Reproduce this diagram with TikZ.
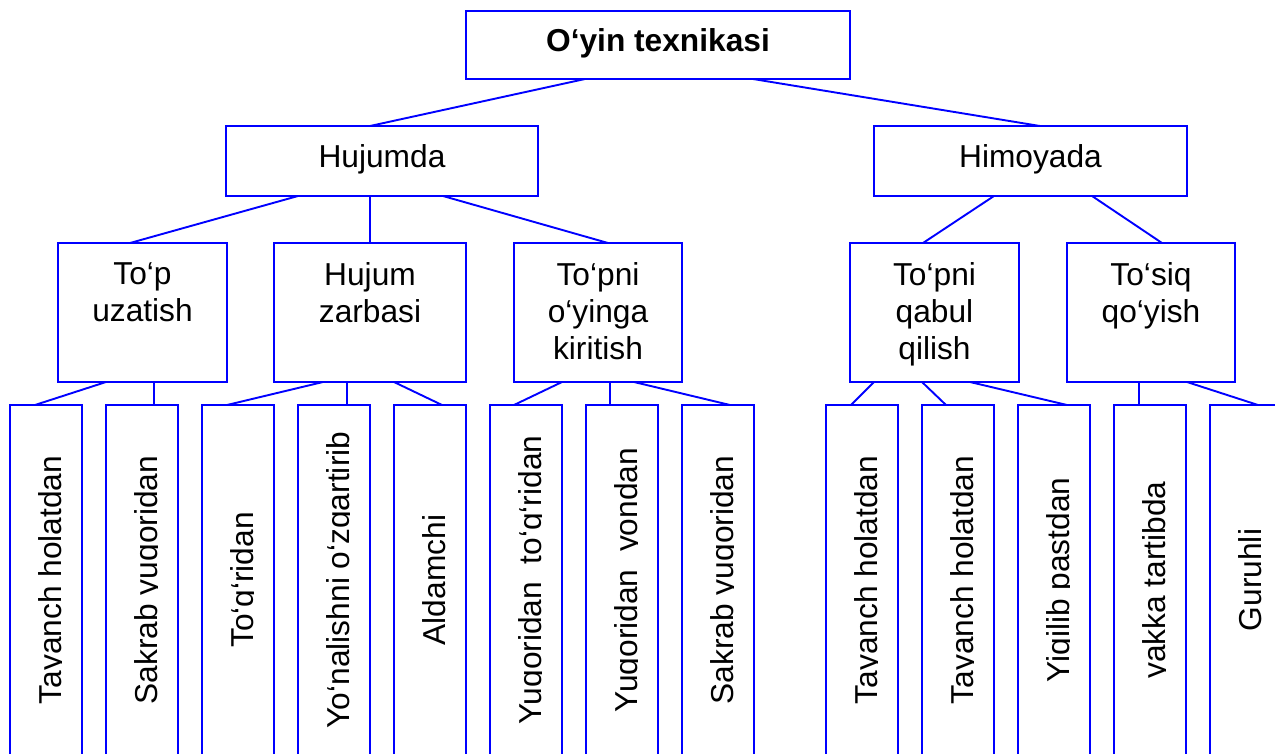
\documentclass[tikz,border=0pt]{standalone}
\usepackage{fontspec}
\setmainfont{Liberation Sans}
\usetikzlibrary{calc}
\definecolor{lnblue}{RGB}{0,0,255}
\tikzset{
  box/.style={draw=lnblue, line width=1.9pt, rectangle, inner sep=0pt, outer sep=0pt, anchor=north west},
  txt/.style={font=\fontsize{31.7}{37}\selectfont, text=black},
  ln/.style={draw=lnblue, line width=1.9pt},
  onetext/.style={txt, text height=22pt, text depth=10pt},
}
\newcommand\leafnode[3]{%
  \node[box, minimum width=72pt, minimum height=350pt] (#1) at (#2,405) {};
  \begin{scope}
    \clip ([yshift=2pt]#1.north west) rectangle ([xshift=15.5pt]#1.south);
    \node[txt, rotate=90, anchor=base, inner sep=0pt] (#1t) at ([xshift=15.5pt]#1.center) {#3};
  \end{scope}}
\newcommand\midnode[4]{%
  \node[box, minimum width=#3, minimum height=139pt] (#1) at (#2,243) {};
  \node[txt, align=center, anchor=north, inner sep=0pt] (#1t) at ([yshift=-19pt]#1.north) {#4};}
\newcommand\conn[4]{\draw[ln] ([xshift=#2]#1.south west) -- ([xshift=#4]#3.north west);}
\begin{document}
\begin{tikzpicture}[x=1pt, y=-1pt]
\clip (0,0) rectangle (1275,753);
\fill[white] (0,0) rectangle (1275,753);
% level 0
\node[box, onetext, minimum width=384pt, minimum height=68pt] (top) at (466,11) {\bfseries O‘yin texnikasi};
% level 1
\node[box, onetext, minimum width=312pt, minimum height=70pt] (hu) at (226,126) {Hujumda};
\node[box, onetext, minimum width=313pt, minimum height=70pt] (hi) at (874,126) {Himoyada};
% level 2
\midnode{m1}{58}{169pt}{To‘p\\uzatish}
\midnode{m2}{274}{192pt}{Hujum\\zarbasi}
\midnode{m3}{514}{168pt}{To‘pni\\o‘yinga\\kiritish}
\midnode{m4}{850}{169pt}{To‘pni\\qabul\\qilish}
\midnode{m5}{1067}{168pt}{To‘siq\\qo‘yish}
% level 3
\leafnode{l1}{10}{Tayanch holatdan}
\leafnode{l2}{106}{Sakrab yuqoridan}
\leafnode{l3}{202}{To‘g‘ridan}
\leafnode{l4}{298}{Yo‘nalishni o‘zgartirib}
\leafnode{l5}{394}{Aldamchi}
\leafnode{l6}{490}{Yuqoridan~~to‘g‘ridan}
\leafnode{l7}{586}{Yuqoridan~~yondan}
\leafnode{l8}{682}{Sakrab yuqoridan}
\leafnode{l9}{826}{Tayanch holatdan}
\leafnode{l10}{922}{Tayanch holatdan}
\leafnode{l11}{1018}{Yiqilib pastdan}
\leafnode{l12}{1114}{yakka tartibda}
\leafnode{l13}{1210}{Guruhli}
% connectors
\conn{top}{119}{hu}{144}
\conn{top}{287}{hi}{166}
\conn{hu}{72}{m1}{72}
\conn{hu}{144}{m2}{96}
\conn{hu}{217}{m3}{94}
\conn{hi}{120}{m4}{73}
\conn{hi}{218}{m5}{95}
\conn{m1}{48}{l1}{25}
\conn{m1}{96}{l2}{48}
\conn{m2}{49}{l3}{25}
\conn{m2}{73}{l4}{49}
\conn{m2}{120}{l5}{48}
\conn{m3}{48}{l6}{24}
\conn{m3}{96}{l7}{24}
\conn{m3}{120}{l8}{48}
\conn{m4}{24}{l9}{25}
\conn{m4}{72}{l10}{24}
\conn{m4}{120}{l11}{49}
\conn{m5}{72}{l12}{25}
\conn{m5}{120}{l13}{48}
\end{tikzpicture}
\end{document}
